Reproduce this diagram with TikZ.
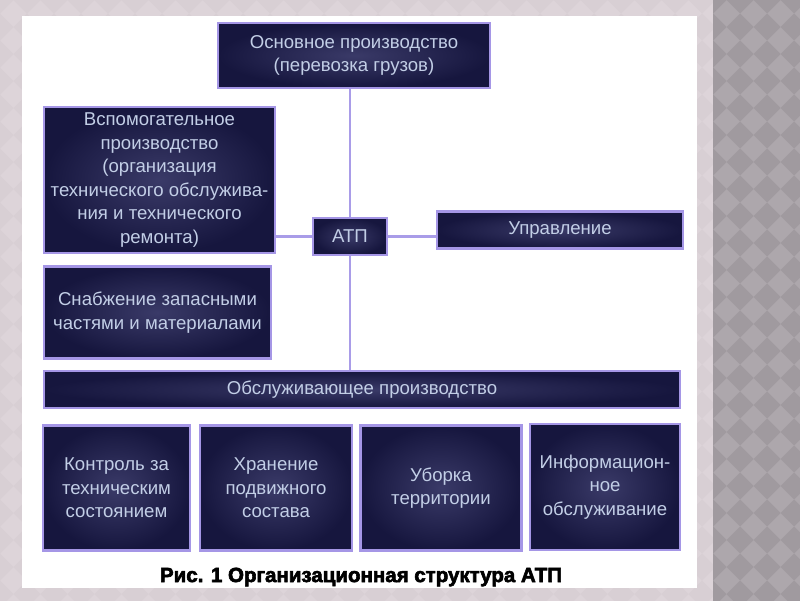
\documentclass[tikz,border=0pt]{standalone}
\usepackage{fontspec}
\setmainfont{Liberation Sans}
\newfontfamily\capfont{Liberation Sans Bold}[FakeBold=3]
\definecolor{bgpink}{HTML}{DDD4D9}
\definecolor{bgpinkd}{HTML}{D8CFD4}
\definecolor{striplight}{HTML}{ADA7AC}
\definecolor{stripdark}{HTML}{A09A9F}
\definecolor{boxin}{HTML}{3A3A68}
\definecolor{boxout}{HTML}{16163E}
\definecolor{boxline}{HTML}{A596E6}
\definecolor{boxtext}{HTML}{C2CEE6}
\definecolor{conn}{HTML}{A99CE8}
\tikzset{
  orgbox/.style 2 args={draw=boxline, line width=2.2pt, inner color=boxin, outer color=boxout,
    minimum width=#1, minimum height=#2, inner sep=1pt, align=center, text=boxtext,
    font=\fontsize{18.6}{23.5}\selectfont},
  link/.style={draw=conn, line width=2.6pt},
}
\begin{document}
\begin{tikzpicture}[x=1pt,y=-1pt]
\useasboundingbox (0,0) rectangle (800,600);
% backgrounds
\fill[bgpink] (-10,-10) rectangle (713,610);
\begin{scope}
  \clip (-10,-10) rectangle (713,610);
  \foreach \i in {0,...,27} \foreach \j in {0,...,23}
    {\fill[bgpinkd] (\i*27,\j*27) +(0,-13.5) -- +(13.5,0) -- +(0,13.5) -- +(-13.5,0) -- cycle;}
\end{scope}
\fill[striplight] (713,-10) rectangle (810,610);
\begin{scope}
  \clip (713,-10) rectangle (810,610);
  \foreach \i in {0,...,4} \foreach \j in {0,...,23}
    {\fill[stripdark] (713+\i*27,\j*27) +(0,-13.5) -- +(13.5,0) -- +(0,13.5) -- +(-13.5,0) -- cycle;}
\end{scope}
\fill[white] (22,16) rectangle (697,588);
% boxes
\node[orgbox={272pt}{65pt}] (main) at (354,55.5) {Основное производство\\(перевозка грузов)};
\node[orgbox={231pt}{146pt}] (aux) at (159.5,180) {Вспомогательное\\производство\\(организация\\технического обслужива-\\ния и технического\\ремонта)};
\node[orgbox={74pt}{37pt}] (atp) at (350,236.5) {АТП};
\node[orgbox={246pt}{37pt}] (upr) at (560,230) {Управление};
\node[orgbox={227pt}{92pt}] (snab) at (157.5,312.5) {Снабжение запасными\\частями и материалами};
\node[orgbox={636pt}{37pt}] (obsl) at (362,389.5) {Обслуживающее производство};
\node[orgbox={147pt}{125pt}] (k1) at (116.5,488) {Контроль за\\техническим\\состоянием};
\node[orgbox={152pt}{125pt}] (k2) at (276,488) {Хранение\\подвижного\\состава};
\node[orgbox={161pt}{125pt}] (k3) at (441,488) {Уборка\\территории};
\node[orgbox={150pt}{126pt}] (k4) at (605,487) {Информацион-\\ное\\обслуживание};
\node[font=\fontsize{20.5}{24}\capfont, text=black] (cap) at (361,577) {Рис. 1 Организационная структура АТП};
% connectors
\draw[link] (atp.north) -- (atp.north |- main.south);
\draw[link] (atp.south) -- (atp.south |- obsl.north);
\draw[link] (atp.west) -- (atp.west -| aux.east);
\draw[link] (atp.east) -- (atp.east -| upr.west);
\end{tikzpicture}
\end{document}
